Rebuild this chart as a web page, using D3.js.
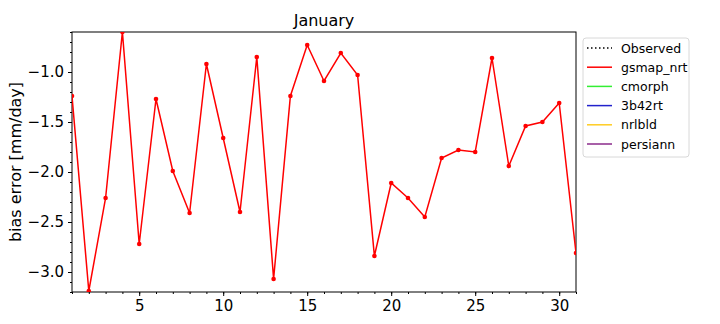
<!DOCTYPE html>
<html>
<head>
<meta charset="utf-8">
<script src="https://cdn.jsdelivr.net/npm/d3@7"></script>
<style>
  body { margin: 0; background: #fff; }
  text { font-family: "DejaVu Sans", sans-serif; }
</style>
</head>
<body>
<svg id="chart" width="720" height="324"></svg>
<script>
// days of January
const days = d3.range(1, 32);
// gsmap_nrt bias error
const gsmapNrt = [-1.24, -3.19, -2.26, -0.60, -2.72, -1.27, -1.99, -2.41, -0.92, -1.66,
    -2.40, -0.85, -3.07, -1.24, -0.73, -1.09, -0.81, -1.03, -2.84, -2.11,
    -2.26, -2.45, -1.86, -1.78, -1.80, -0.86, -1.94, -1.54, -1.50, -1.31, -2.81];
const xTicks = [5, 10, 15, 20, 25, 30];
const yTicks = [-3.0, -2.5, -2.0, -1.5, -1.0];
const legendNames = ["Observed", "gsmap_nrt", "cmorph", "3b42rt", "nrlbld", "persiann"];
const legendColors = ["#000000", "#ff0000", "#33ee33", "#2222cc", "#ffcc22", "#8b2b8b"];

const margin = {left: 72, right: 144, top: 32, bottom: 32};
const width = 720 - margin.left - margin.right;
const height = 324 - margin.top - margin.bottom;

const svg = d3.select("#chart");
const g = svg.append("g").attr("transform", "translate(" + margin.left + "," + margin.top + ")");

const x = d3.scaleLinear().domain([1, 31]).range([0, width]);
const y = d3.scaleLinear().domain([-3.2, -0.6]).range([height, 0]);

// minor ticks
g.append("g")
    .attr("transform", "translate(0," + height + ")")
    .call(d3.axisBottom(x).tickValues(days).tickSize(2).tickFormat(""))
    .call(function(a) { a.select(".domain").remove(); });
g.append("g")
    .call(d3.axisLeft(y).tickValues(d3.range(-32, -5).map(function(d) { return d / 10; })).tickSize(2).tickFormat(""))
    .call(function(a) { a.select(".domain").remove(); });

// major ticks
const xAxis = g.append("g")
    .attr("transform", "translate(0," + height + ")")
    .call(d3.axisBottom(x).tickValues(xTicks).tickSize(4).tickPadding(4).tickFormat(d3.format("d")));
xAxis.select(".domain").remove();
xAxis.selectAll("text").attr("font-size", 15).attr("fill", "#000");

const yAxis = g.append("g")
    .call(d3.axisLeft(y).tickValues(yTicks).tickSize(4).tickPadding(4)
        .tickFormat(function(d) { return d3.format(".1f")(d).replace("-", "\u2212"); }));
yAxis.select(".domain").remove();
yAxis.selectAll("text").attr("font-size", 15).attr("fill", "#000");

g.append("rect")
    .attr("width", width).attr("height", height)
    .attr("fill", "none").attr("stroke", "#000").attr("stroke-width", 1);

// data line
const clip = svg.append("clipPath").attr("id", "clip")
    .append("rect").attr("width", width).attr("height", height);
const plot = g.append("g").attr("clip-path", "url(#clip)");

const line = d3.line()
    .x(function(d, i) { return x(days[i]); })
    .y(function(d) { return y(d); });

plot.append("path")
    .datum(gsmapNrt)
    .attr("d", line)
    .attr("fill", "none")
    .attr("stroke", "#ff0000")
    .attr("stroke-width", 1.5);

plot.selectAll(".dot")
    .data(gsmapNrt)
    .enter().append("circle")
    .attr("cx", function(d, i) { return x(days[i]); })
    .attr("cy", function(d) { return y(d); })
    .attr("r", 2.3)
    .attr("fill", "#ff0000");

// title and label
svg.append("text")
    .attr("x", margin.left + width / 2).attr("y", 26)
    .attr("text-anchor", "middle").attr("font-size", 16)
    .text("January");

svg.append("text")
    .attr("transform", "translate(21," + (margin.top + height / 2) + ") rotate(-90)")
    .attr("text-anchor", "middle").attr("font-size", 16)
    .text("bias error [mm/day]");

// legend
const legend = svg.append("g").attr("transform", "translate(583,38)");
legend.append("rect")
    .attr("width", 106).attr("height", 119)
    .attr("rx", 3)
    .attr("fill", "#fff").attr("stroke", "#d8d8d8");

legendNames.forEach(function(name, i) {
    var yy = 10 + i * 19.2;
    legend.append("line")
        .attr("x1", 4).attr("x2", 29)
        .attr("y1", yy).attr("y2", yy)
        .attr("stroke", legendColors[i])
        .attr("stroke-width", 1.5)
        .attr("stroke-dasharray", i == 0 ? "1.5,2.5" : null);
    legend.append("text")
        .attr("x", 38).attr("y", yy + 4.5)
        .attr("font-size", 12.5)
        .text(name);
});
</script>
</body>
</html>
